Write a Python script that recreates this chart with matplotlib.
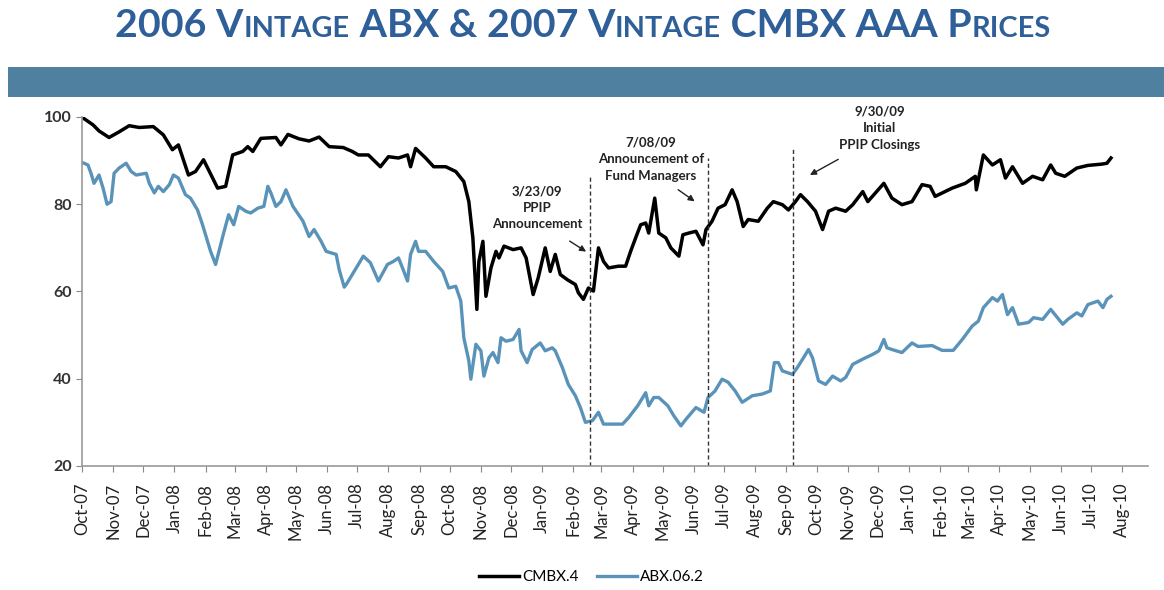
import matplotlib
matplotlib.use("Agg")
import matplotlib.pyplot as plt
import matplotlib.dates as mdates
from matplotlib.patches import Rectangle
import pandas as pd

# x positions are days after 2007-10-01
START = "2007-10-01"

cmbx_days = [0, 1, 11, 17, 27, 37, 47, 57, 71, 81, 90, 96, 106, 113, 121, 130, 135, 143, 150, 160,
             165, 170, 178, 193, 198, 205, 216, 226, 236, 246, 260, 269, 275, 285, 297, 305, 315, 324,
             327, 332, 342, 350, 362, 372, 380, 385, 389, 393, 395, 399, 402, 407, 412, 415, 420, 429,
             437, 442, 449, 454, 461, 466, 471, 476, 483, 491, 494, 499, 504, 509, 514, 519, 524, 534,
             541, 546, 551, 556, 561, 564, 570, 574, 581, 586, 594, 598, 604, 611, 618, 621, 627, 633,
             640, 647, 652, 658, 663, 673, 682, 688, 697, 703, 710, 715, 722, 730, 737, 743, 750, 760,
             767, 777, 782, 798, 806, 816, 826, 836, 844, 849, 866, 879, 889, 890, 897, 906, 914, 919,
             926, 936, 946, 956, 964, 969, 978, 990, 1001, 1015, 1020, 1024]
cmbx_vals = [100.0, 99.8, 98.2, 96.8, 95.3, 96.6, 98.0, 97.6, 97.8, 95.9, 92.5, 93.6, 86.7, 87.5, 90.2,
             86.0, 83.7, 84.1, 91.3, 92.1, 93.2, 92.1, 95.1, 95.3, 93.6, 96.0, 95.0, 94.5, 95.4, 93.2,
             93.0, 92.1, 91.3, 91.3, 88.6, 90.9, 90.6, 91.3, 88.6, 92.8, 90.6, 88.6, 88.6, 87.5, 85.2,
             80.6, 72.3, 55.9, 66.9, 71.5, 58.9, 65.4, 69.2, 67.7, 70.4, 69.6, 70.0, 67.7, 59.3, 63.1,
             70.0, 64.6, 68.5, 63.9, 62.7, 61.6, 59.7, 58.2, 60.8, 60.1, 70.0, 66.9, 65.4, 65.8, 65.8,
             69.2, 72.3, 75.3, 75.7, 73.4, 81.4, 73.4, 72.3, 70.0, 68.1, 73.0, 73.4, 73.8, 70.7, 74.2,
             76.1, 79.1, 79.9, 83.3, 80.6, 74.9, 76.5, 76.1, 79.1, 80.6, 79.9, 78.7, 80.6, 82.2, 80.6,
             78.4, 74.2, 78.4, 79.1, 78.4, 79.9, 82.9, 80.6, 84.8, 81.4, 79.9, 80.6, 84.5, 84.1, 81.8,
             83.7, 84.8, 86.4, 83.3, 91.3, 89.0, 90.2, 86.0, 88.6, 84.8, 86.4, 85.6, 89.0, 87.1, 86.4,
             88.3, 88.9, 89.2, 89.4, 90.6]

abx_days = [0, 6, 9, 12, 17, 21, 25, 29, 32, 37, 44, 49, 54, 64, 67, 72, 76, 81, 87, 91, 96, 103, 108,
            115, 120, 125, 128, 133, 138, 141, 146, 151, 156, 163, 168, 175, 181, 185, 188, 193, 198,
            203, 210, 220, 226, 231, 238, 243, 253, 256, 261, 263, 269, 280, 287, 295, 304, 310, 315,
            319, 324, 327, 332, 335, 342, 350, 359, 365, 372, 377, 380, 385, 387, 392, 397, 400, 405,
            409, 414, 417, 422, 429, 435, 437, 443, 448, 456, 461, 468, 471, 478, 484, 491, 496, 501,
            508, 514, 519, 528, 538, 544, 553, 561, 564, 569, 574, 583, 589, 596, 601, 611, 619, 623,
            630, 637, 643, 650, 657, 667, 677, 685, 689, 693, 697, 707, 712, 718, 723, 727, 733, 740,
            747, 755, 760, 767, 777, 787, 793, 798, 801, 806, 816, 826, 832, 846, 856, 867, 876, 886,
            892, 897, 906, 911, 916, 921, 926, 932, 942, 947, 956, 964, 976, 981, 990, 995, 1001, 1011,
            1016, 1020, 1024]
abx_vals = [89.6, 89.0, 87.1, 84.8, 86.7, 83.7, 80.0, 80.6, 87.1, 88.3, 89.4, 87.5, 86.7, 87.1, 84.8,
            82.6, 84.1, 82.9, 84.5, 86.7, 86.0, 82.2, 81.4, 78.7, 75.3, 71.5, 69.2, 66.2, 70.7, 73.4,
            77.6, 75.3, 79.5, 78.4, 78.0, 79.1, 79.5, 84.1, 82.6, 79.5, 80.6, 83.3, 79.5, 76.1, 72.6,
            74.2, 71.5, 69.2, 68.5, 65.0, 61.0, 61.6, 63.9, 68.1, 66.6, 62.4, 66.2, 66.9, 67.7, 65.4,
            62.4, 68.5, 71.5, 69.2, 69.2, 66.9, 64.6, 60.8, 61.2, 57.8, 49.4, 44.1, 39.9, 47.9, 46.4,
            40.6, 44.8, 46.0, 43.7, 49.4, 48.6, 49.0, 51.3, 46.4, 43.7, 46.7, 48.2, 46.4, 47.1, 46.4,
            42.6, 38.7, 36.1, 33.4, 30.0, 30.4, 32.3, 29.6, 29.6, 29.6, 31.1, 33.8, 36.8, 33.8, 35.7,
            35.7, 33.8, 31.5, 29.2, 30.7, 33.4, 32.3, 35.7, 37.2, 39.9, 39.2, 37.2, 34.6, 36.1, 36.5,
            37.2, 43.7, 43.7, 41.8, 41.0, 42.6, 44.8, 46.7, 44.8, 39.5, 38.7, 40.6, 39.5, 40.3, 43.3,
            44.5, 45.6, 46.4, 49.0, 47.1, 46.7, 46.0, 48.2, 47.4, 47.6, 46.5, 46.5, 49.0, 52.1, 53.2,
            56.3, 58.6, 57.8, 59.3, 54.7, 56.3, 52.5, 52.9, 54.0, 53.6, 55.9, 52.5, 53.6, 55.1, 54.4,
            57.0, 57.8, 56.3, 58.2, 58.9]

event_dates = ["2009-02-18", "2009-06-15", "2009-09-08"]
event_tops = [86.3, 90.6, 92.9]
event_texts = ["3/23/09\nPPIP\nAnnouncement",
               "7/08/09\nAnnouncement of\nFund Managers",
               "9/30/09\nInitial\nPPIP Closings"]

tick_months = pd.date_range("2007-10-01", "2010-08-01", freq="MS")
y_ticks = [20, 40, 60, 80, 100]

BLACK = "#000000"
BLUE = "#5a93b9"
TITLE_BLUE = "#2f5f98"

start = pd.Timestamp(START)
cmbx_x = start + pd.to_timedelta(cmbx_days, unit="D")
abx_x = start + pd.to_timedelta(abx_days, unit="D")

plt.rcParams["font.family"] = ["Lato", "DejaVu Sans"]

fig = plt.figure(figsize=(11.64, 5.9), dpi=100)
ax = fig.add_axes([0.0704, 0.2102, 0.916, 0.5915])

ax.plot(cmbx_x, cmbx_vals, color=BLACK, lw=2.5, label="CMBX.4", solid_joinstyle="round")
ax.plot(abx_x, abx_vals, color=BLUE, lw=2.4, label="ABX.06.2", solid_joinstyle="round")

for d, top in zip(event_dates, event_tops):
    ax.plot([pd.Timestamp(d), pd.Timestamp(d)], [20, top], color="#333333", lw=1.0,
            ls=(0, (3, 2)))

# annotation text and arrows (positions in days after start)
def dd(n):
    return start + pd.Timedelta(days=n)

note_kw = dict(ha="center", va="center", fontsize=9.5, fontweight="bold", color="#222222",
               linespacing=1.45)
arrow_kw = dict(arrowstyle="-|>", color="#222222", lw=1.0, mutation_scale=9)

ax.text(dd(453), 79.2, event_texts[0], **note_kw)
ax.annotate("", xy=(dd(504), 68.8), xytext=(dd(483), 71.9), arrowprops=arrow_kw)
ax.text(dd(566), 90.3, event_texts[1], **note_kw)
ax.annotate("", xy=(dd(612), 80.3), xytext=(dd(591), 83.7), arrowprops=arrow_kw)
ax.text(dd(794), 97.4, event_texts[2], **note_kw)
ax.annotate("", xy=(dd(722), 86.4), xytext=(dd(755), 90.6), arrowprops=arrow_kw)

ax.set_ylim(20, 100)
ax.set_xlim(start, pd.Timestamp("2010-08-27"))
ax.set_yticks(y_ticks)
ax.set_xticks(tick_months)
ax.xaxis.set_major_formatter(mdates.DateFormatter("%b-%y"))
ax.tick_params(axis="x", rotation=90, labelsize=12, length=4, color="#888888",
               labelcolor="#222222", pad=8)
ax.tick_params(axis="y", labelsize=11.5, length=4, color="#888888", labelcolor="#333333")
for lab in ax.get_yticklabels():
    lab.set_fontweight("bold")
for side in ["top", "right"]:
    ax.spines[side].set_visible(False)
for side in ["left", "bottom"]:
    ax.spines[side].set_color("#999999")
    ax.spines[side].set_linewidth(1.2)

fig.legend(loc="center", bbox_to_anchor=(0.508, 0.022), ncol=2, frameon=False, fontsize=11,
           handlelength=2.6, columnspacing=1.2, handletextpad=0.2)

# banner
fig.patches.append(Rectangle((0.0069, 0.8356), 0.9931, 0.0508, transform=fig.transFigure,
                             facecolor="#4f80a0", edgecolor="none"))

# title in small caps, built from pieces
pieces = [("2006 V", 28.4), ("INTAGE", 20.9), (" ABX & 2007 V", 28.4), ("INTAGE", 20.9),
          (" CMBX AAA P", 28.4), ("RICES", 20.9)]
renderer = fig.canvas.get_renderer()
texts = []
widths = []
for s, size in pieces:
    t = fig.text(0, 0.937, s, fontsize=size, fontweight="bold", color=TITLE_BLUE,
                 ha="left", va="baseline")
    texts.append(t)
    widths.append(t.get_window_extent(renderer).width)
total = sum(widths)
x = (583 - total / 2)
for t, w in zip(texts, widths):
    t.set_x(x / 1164)
    x += w

fig.savefig("out.png", dpi=100)
